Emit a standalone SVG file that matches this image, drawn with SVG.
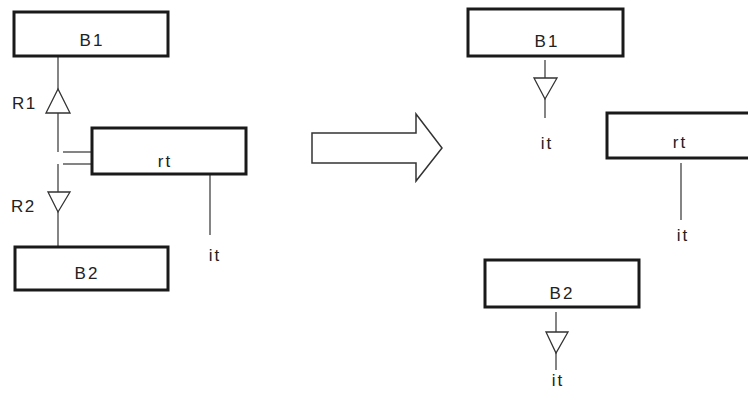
<svg xmlns="http://www.w3.org/2000/svg" width="748" height="398" viewBox="0 0 748 398">
<style>
.box{fill:#fff;stroke:#1a1a1a;stroke-width:3}
.ln{fill:none;stroke:#333;stroke-width:1.2}
.tri{fill:#fff;stroke:#333;stroke-width:1.3;stroke-linejoin:miter}
.t{font-family:"Liberation Sans",Arial,sans-serif;font-size:17px;fill:#222;text-anchor:middle;letter-spacing:2px}
.tl{font-family:"Liberation Sans",Arial,sans-serif;font-size:17px;fill:#222;letter-spacing:1.5px}
</style>
<rect width="748" height="398" fill="#fff"/>
<g id="connectors">
<line class="ln" x1="58" y1="56" x2="58" y2="152"/>
<line class="ln" x1="58" y1="164" x2="58" y2="247"/>
<line class="ln" x1="63" y1="152" x2="92" y2="152"/>
<line class="ln" x1="63" y1="164" x2="92" y2="164"/>
<polygon class="tri" points="58,89 46,113 70,113"/>
<polygon class="tri" points="48,192 70,192 58,212"/>
<line class="ln" x1="210" y1="174" x2="210" y2="235"/>
<line class="ln" x1="545" y1="60" x2="545" y2="118"/>
<polygon class="tri" points="534,78 557,78 545,99"/>
<line class="ln" x1="681" y1="163" x2="681" y2="220"/>
<line class="ln" x1="556" y1="312" x2="556" y2="370"/>
<polygon class="tri" points="546,332 568,332 556,353"/>
</g>
<g id="bigarrow">
<polygon points="312,133 416,133 416,114 442,148 416,181 416,163 312,163" fill="#fff" stroke="#333" stroke-width="1.5" stroke-linejoin="miter"/>
</g>
<g id="L-B1"><rect class="box" x="14" y="12" width="154" height="44"/><text class="t" x="92" y="46">B1</text></g>
<g id="L-rt"><rect class="box" x="92" y="128" width="154" height="46"/><text class="t" x="165" y="167">rt</text></g>
<g id="L-B2"><rect class="box" x="15" y="247" width="153" height="43"/><text class="t" x="87" y="279">B2</text></g>
<g id="labels-left">
<text class="tl" x="12" y="109">R1</text>
<text class="tl" x="11" y="212">R2</text>
<text class="t" x="215" y="261">it</text>
</g>
<g id="R-B1"><rect class="box" x="468" y="9" width="155" height="47"/><text class="t" x="547" y="47">B1</text></g>
<g id="R-rt"><rect class="box" x="607" y="113" width="150" height="45"/><text class="t" x="680" y="148">rt</text></g>
<g id="R-B2"><rect class="box" x="485" y="260" width="154" height="47"/><text class="t" x="562" y="299">B2</text></g>
<g id="labels-right">
<text class="t" x="547" y="149">it</text>
<text class="t" x="683" y="241">it</text>
<text class="t" x="558" y="386">it</text>
</g>
</svg>
